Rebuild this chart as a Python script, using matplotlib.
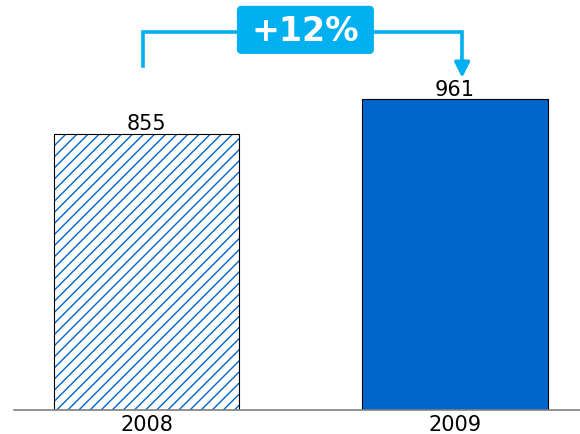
import matplotlib.pyplot as plt
from matplotlib.patches import FancyBboxPatch

years = ['2008', '2009']
values = [855, 961]
growth_label = '+12%'

cyan = '#00B0F0'
blue = '#0066CC'

fig = plt.figure(figsize=(5.8, 4.35), dpi=100)
ax = fig.add_axes([14 / 580, 24 / 435, 566 / 580, 411 / 435])

x = [0, 1]
# hatched bar for 2008: hatch drawn in blue, outline drawn separately in black
ax.bar(x[0], values[0], width=0.6, color='white', edgecolor=blue, hatch='///', linewidth=0)
ax.bar(x[0], values[0], width=0.6, fill=False, edgecolor='black', linewidth=0.8)
ax.bar(x[1], values[1], width=0.6, color=blue, edgecolor='black', linewidth=0.8)

for xi, v in zip(x, values):
    ax.text(xi, v + 2, str(v), ha='center', va='bottom', fontsize=15, color='black')

ax.set_xlim(-0.4295, 1.405)
ax.set_ylim(0, 1272)

ax.set_xticks(x)
ax.set_xticklabels(years, fontsize=15)
ax.tick_params(axis='x', length=0, pad=3)
ax.set_yticks([])
for s in ['top', 'right', 'left']:
    ax.spines[s].set_visible(False)
ax.spines['bottom'].set_color('#808080')
ax.spines['bottom'].set_linewidth(1.2)

# growth bracket from 2008 to 2009
y_top = 1170
ax.plot([-0.011, -0.011, 1.023, 1.023], [1065, y_top, y_top, 1075],
        color=cyan, lw=2.6, solid_joinstyle='miter', clip_on=False)
ax.annotate('', xy=(1.023, 1028), xytext=(1.023, 1080),
            arrowprops=dict(arrowstyle='-|>,head_length=0.9,head_width=0.45',
                            color=cyan, lw=2.6, shrinkA=0, shrinkB=0),
            annotation_clip=False)

box = FancyBboxPatch((0.293, 1102), 0.444, 149,
                     boxstyle='round,pad=0,rounding_size=0.015',
                     mutation_aspect=955,
                     facecolor=cyan, edgecolor='none', clip_on=False, zorder=3)
ax.add_patch(box)
ax.text(0.515, 1176, growth_label, ha='center', va='center', fontsize=24,
        fontweight='bold', color='white', zorder=4)

fig.savefig('out.png', dpi=100)
